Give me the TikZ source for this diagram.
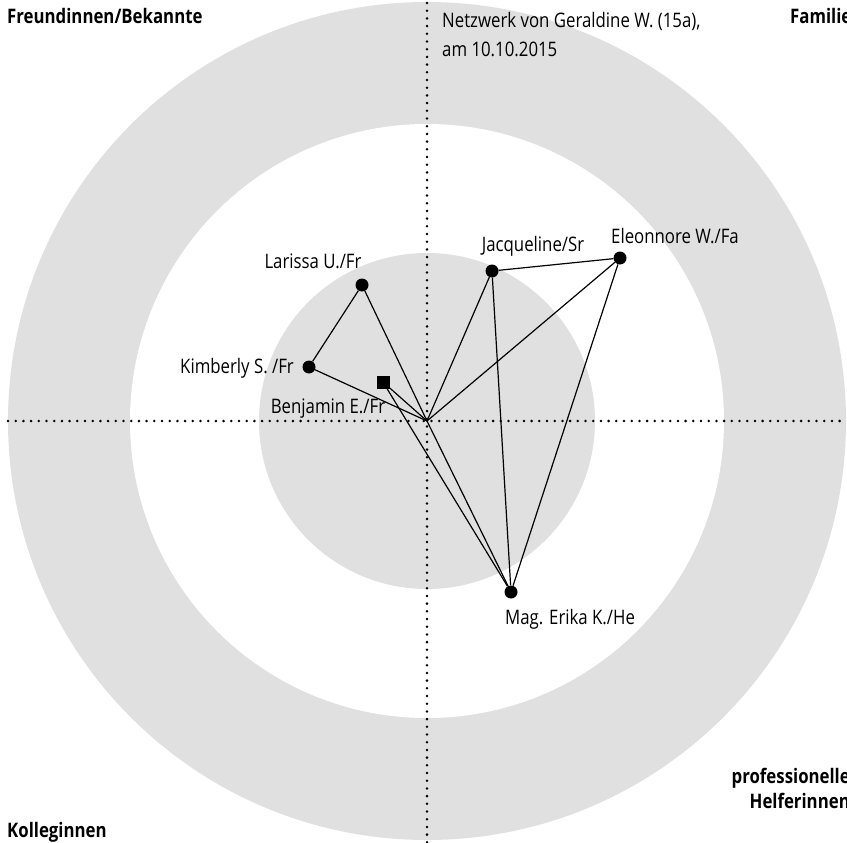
\documentclass[tikz,border=0pt]{standalone}
\usepackage{fontspec}
\setmainfont[FakeStretch=0.84]{Open Sans}
\definecolor{ringgray}{RGB}{224,224,224}
\begin{document}
\begin{tikzpicture}[x=1pt,y=-1pt,
  font=\fontsize{20}{24}\selectfont,
  lbl/.style={inner sep=0pt, anchor=base},
  hd/.style={inner sep=0pt, anchor=base west, font=\fontsize{20}{24}\selectfont\bfseries},
  pdot/.style={circle, fill=black, minimum size=13pt, inner sep=0pt},
  psq/.style={rectangle, fill=black, minimum size=13pt, inner sep=0pt},
  edge/.style={line width=1.2pt},
  axis/.style={line width=2.8pt, line cap=round, dash pattern=on 0pt off 7.7pt}]
\useasboundingbox (0,0) rectangle (847,843);
% rings
\fill[ringgray] (427,421) circle[radius=419pt];
\fill[white] (427,421) circle[radius=297pt];
\fill[ringgray] (427,421) circle[radius=168pt];
% axes
\draw[axis] (8,421) -- (847,421);
\draw[axis] (427,3) -- (427,843);
% sector headings
\node[hd] (hfr) at (7,24) {Freundinnen/Bekannte};
\node[hd] (hfa) at (790,24) {Familie};
\node[hd] (hko) at (7,837) {Kolleginnen};
\node[inner sep=0pt, anchor=base east, align=right, font=\fontsize{20}{25}\selectfont\bfseries] (hpr) at (850,808) {professionelle\\Helferinnen};
% title
\node[inner sep=0pt, anchor=base west] (t1) at (442,28) {Netzwerk von Geraldine W. (15a),};
\node[inner sep=0pt, anchor=base west] (t2) at (442,57) {am 10.10.2015};
% persons
\coordinate (ego) at (427,421);
\node[pdot] (lar) at (362,285) {};
\node[pdot] (kim) at (309,367) {};
\node[psq] (ben) at (383,382) {};
\node[pdot] (jac) at (492,271) {};
\node[pdot] (ele) at (620,258) {};
\node[pdot] (eri) at (511,592) {};
% labels
\node[lbl] (llar) at (313,268) {Larissa U./Fr};
\node[lbl, anchor=base east] (lkim) at (294,373) {Kimberly S. /Fr};
\node[lbl] (lben) at (328,413) {Benjamin E./Fr};
\node[lbl] (ljac) at (533,251) {Jacqueline/Sr};
\node[lbl] (lele) at (675,243) {Eleonnore W./Fa};
\node[lbl, anchor=base west] (leri) at (505,624) {Mag. Erika K./He};
% ties
\draw[edge] (lar) -- (kim);
\draw[edge] (lar) -- (ego);
\draw[edge] (kim) -- (ego);
\draw[edge] (ben) -- (ego);
\draw[edge] (ben) -- (eri);
\draw[edge] (ego) -- (eri);
\draw[edge] (jac) -- (ele);
\draw[edge] (jac) -- (ego);
\draw[edge] (ele) -- (ego);
\draw[edge] (jac) -- (eri);
\draw[edge] (ele) -- (eri);
\end{tikzpicture}
\end{document}
